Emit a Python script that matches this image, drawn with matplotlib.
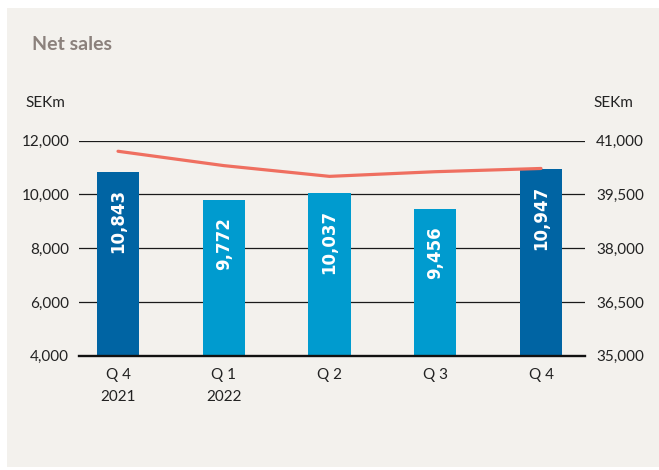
import matplotlib
matplotlib.use("Agg")
import matplotlib.pyplot as plt
from matplotlib.patches import Rectangle
from matplotlib.ticker import FuncFormatter

categories = ["Q 4\n2021", "Q 1\n2022", "Q 2", "Q 3", "Q 4"]
quarter_sales = [10843, 9772, 10037, 9456, 10947]
rolling_12m = [40700, 40300, 40000, 40130, 40220]
bar_colors = ["#0064a3", "#009bcf", "#009bcf", "#009bcf", "#0064a3"]
left_ticks = [4000, 6000, 8000, 10000, 12000]
right_ticks = [35000, 36500, 38000, 39500, 41000]

BG = "#f3f1ed"
TXT = "#222222"
plt.rcParams["font.family"] = ["Lato", "DejaVu Sans"]

fig = plt.figure(figsize=(6.59, 4.70), dpi=100, facecolor="white")
fig.patches.append(Rectangle((7/659, 3/470), 652/659, 459/470, transform=fig.transFigure,
                             facecolor=BG, edgecolor="none", zorder=-10))

ax = fig.add_axes([79/659, 1-355.7/470, 506/659, 215.2/470])
ax.set_facecolor("none")
x = list(range(len(categories)))
ax.set_xlim(-0.369, 4.416)
ax.set_ylim(4000, 12000)
for yv in left_ticks[1:]:
    ax.axhline(yv, color="#1a1a1a", lw=0.9, zorder=1)
ax.bar(x, quarter_sales, width=0.40, color=bar_colors, zorder=2)
for xi, v in zip(x, quarter_sales):
    ax.annotate(f"{v:,}", xy=(xi, v), xytext=(0, -17), textcoords="offset pixels",
                rotation=90, ha="center", va="top", color="white",
                fontsize=12, fontweight="bold", family="DejaVu Sans", zorder=4)
ax.axhline(4000, color="#111111", lw=1.7, zorder=3, clip_on=False)
for s in ax.spines.values():
    s.set_visible(False)
ax.set_yticks(left_ticks)
ax.yaxis.set_major_formatter(FuncFormatter(lambda v, p: f"{int(v):,}"))
ax.tick_params(axis="y", length=0, pad=7, labelsize=11, labelcolor=TXT)
ax.set_xticks(x)
ax.set_xticklabels(categories, linespacing=1.7)
ax.tick_params(axis="x", length=0, pad=9, labelsize=11, labelcolor=TXT)

ax2 = ax.twinx()
ax2.set_ylim(35000, 41000)
ax2.plot(x, rolling_12m, color="#ef6f60", lw=2.3, solid_capstyle="round", zorder=5)
for s in ax2.spines.values():
    s.set_visible(False)
ax2.set_yticks(right_ticks)
ax2.yaxis.set_major_formatter(FuncFormatter(lambda v, p: f"{int(v):,}"))
ax2.tick_params(axis="y", length=0, pad=8, labelsize=11, labelcolor=TXT)

fig.text(32/659, 1-45/470, "Net sales", fontsize=14, fontweight="bold", color="#8b817c",
         ha="left", va="center")
fig.text(25/659, 1-103/470, "SEKm", fontsize=11, color=TXT, ha="left", va="center")
fig.text(593/659, 1-103/470, "SEKm", fontsize=11, color=TXT, ha="left", va="center")

fig.savefig("out.png", dpi=100, facecolor="white")
